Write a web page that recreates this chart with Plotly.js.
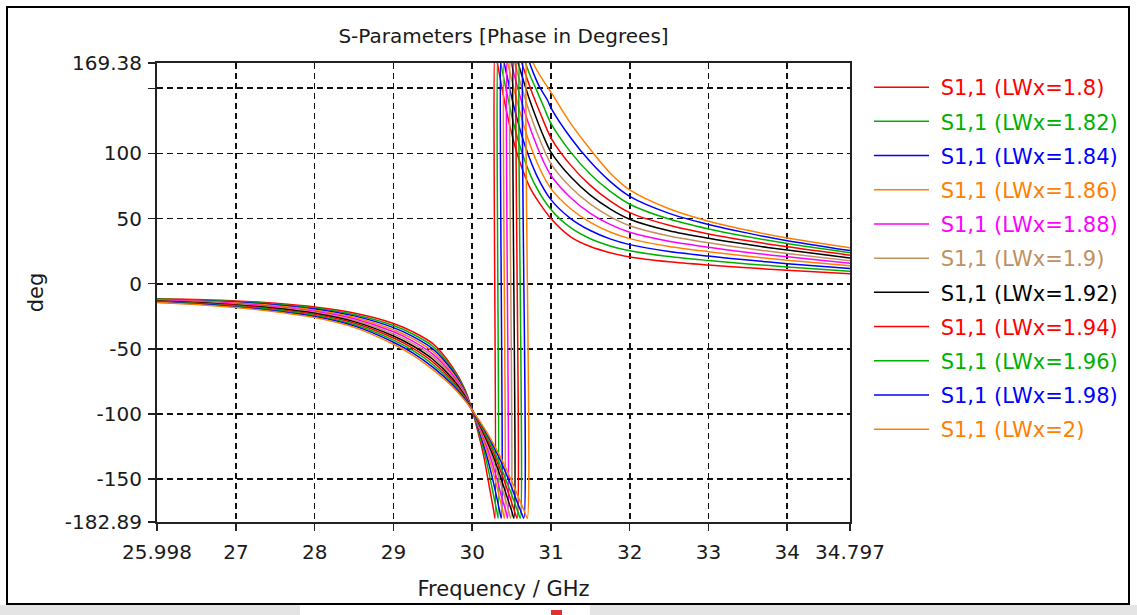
<!DOCTYPE html>
<html><head><meta charset="utf-8">
<script src="https://cdn.plot.ly/plotly-3.0.1.min.js"></script>
<style>html,body{margin:0;padding:0;background:#fff;} #chart{width:1137px;height:615px;}</style>
</head><body><div id="chart"></div>
<script>
// ---- data ----
const lwxValues = ['1.8','1.82','1.84','1.86','1.88','1.9','1.92','1.94','1.96','1.98','2'];

const xTickVals = [25.998, 27, 28, 29, 30, 31, 32, 33, 34, 34.797];
const xTickText = ['25.998','27','28','29','30','31','32','33','34','34.797'];
const yTickVals = [-182.89, -150, -100, -50, 0, 50, 100, 150, 169.38];
const yTickText = ['-182.89','-150','-100','-50','0','50','100','','169.38'];

const freq_1_80 = [25.998,26.5,27,27.5,28,28.5,29,29.25,29.5,29.75,29.9,30.0,30.07,30.145,30.2,30.245,30.275,30.29,30.29,30.32,30.36,30.41,30.49,30.59,30.74,31,31.25,31.5,31.75,32,32.5,33,33.5,34,34.797];
const deg_1_80  = [-11.5,-12.2,-13.2,-15.0,-17.8,-22.5,-30.5,-37,-46,-64,-80,-97,-113,-132,-150,-165,-175,-180,180,169.5,156,140,118,96,73,50,36,28.5,23.8,20.5,16.8,14.3,12.2,10.3,7.6];

const freq_1_82 = [25.998,26.5,27,27.5,28,28.5,29,29.25,29.5,29.75,29.9,30.0,30.08,30.165,30.23,30.28,30.315,30.33,30.33,30.36,30.40,30.45,30.53,30.63,30.78,31,31.25,31.5,31.75,32,32.5,33,33.5,34,34.797];
const deg_1_82  = [-11.8,-12.6,-13.7,-15.7,-18.6,-23.6,-32.1,-38.8,-48,-65.5,-80.9,-97,-113,-132,-150,-165,-175,-180,180,170.5,158,143.5,122,101,78,57,43,34.5,29,25.3,20.8,17.8,15.2,12.9,9.6];

const freq_1_84 = [25.998,26.5,27,27.5,28,28.5,29,29.25,29.5,29.75,29.9,30.0,30.09,30.185,30.26,30.315,30.35,30.37,30.37,30.40,30.44,30.49,30.57,30.67,30.82,31,31.25,31.5,31.75,32,32.5,33,33.5,34,34.797];
const deg_1_84  = [-12.1,-13.0,-14.2,-16.3,-19.4,-24.7,-33.7,-40.6,-50,-67,-81.8,-97,-113,-132,-150,-165,-175,-180,180,171,160,146,126.5,106,83,64.5,50,40.8,34.4,30,24.7,21.2,18.1,15.4,11.6];

const freq_1_86 = [25.998,26.5,27,27.5,28,28.5,29,29.25,29.5,29.75,29.9,30.0,30.10,30.205,30.29,30.35,30.39,30.41,30.41,30.44,30.48,30.53,30.61,30.71,30.86,31,31.25,31.5,31.75,32,32.5,33,33.5,34,34.797];
const deg_1_86  = [-12.4,-13.3,-14.7,-17.0,-20.3,-25.8,-35.3,-42.4,-52,-68.5,-82.7,-97,-113,-132,-150,-165,-175,-180,180,172,162,149.5,131,111,88,73,57.5,47,39.7,34.6,28.6,24.6,21.1,18,13.7];

const freq_1_88 = [25.998,26.5,27,27.5,28,28.5,29,29.25,29.5,29.75,29.9,30.0,30.11,30.225,30.315,30.38,30.43,30.45,30.45,30.48,30.52,30.57,30.65,30.75,30.90,31,31.25,31.5,31.75,32,32.5,33,33.5,34,34.797];
const deg_1_88  = [-12.7,-13.7,-15.2,-17.6,-21.1,-26.9,-36.9,-44.2,-54,-70,-83.6,-97,-113,-132,-150,-165,-175,-180,180,173,163.5,152,135,117,94.5,83,66,54,45.5,39.5,32.6,28,24,20.6,15.6];

const freq_1_90 = [25.998,26.5,27,27.5,28,28.5,29,29.25,29.5,29.75,29.9,30.0,30.12,30.245,30.345,30.42,30.465,30.49,30.49,30.52,30.56,30.61,30.69,30.79,30.94,31,31.25,31.5,31.75,32,32.5,33,33.5,34,34.797];
const deg_1_90  = [-13.0,-14.1,-15.8,-18.3,-21.9,-28.0,-38.5,-46,-56,-71.5,-84.5,-97,-113,-132,-150,-165,-175,-180,180,173.5,165,154.5,138.5,121,99,92,74,61,51.5,44.5,36.6,31.4,27,23.1,17.6];

const freq_1_92 = [25.998,26.5,27,27.5,28,28.5,29,29.25,29.5,29.75,29.9,30.0,30.13,30.265,30.37,30.45,30.505,30.53,30.53,30.56,30.60,30.65,30.73,30.83,30.91,31,31.25,31.5,31.75,32,32.5,33,33.5,34,34.797];
const deg_1_92  = [-13.3,-14.5,-16.3,-18.9,-22.7,-29.1,-40.1,-47.8,-58,-73,-85.4,-97,-113,-132,-150,-165,-175,-180,180,174,166,156,141,124.5,112.5,101,82,68,57.5,49.5,40.6,34.8,30,25.8,19.8];

const freq_1_94 = [25.998,26.5,27,27.5,28,28.5,29,29.25,29.5,29.75,29.9,30.0,30.14,30.285,30.40,30.485,30.54,30.57,30.57,30.60,30.64,30.69,30.77,30.87,31,31.25,31.5,31.75,32,32.5,33,33.5,34,34.797];
const deg_1_94  = [-13.6,-14.9,-16.8,-19.6,-23.5,-30.2,-41.7,-49.6,-60,-74.5,-86.3,-97,-113,-132,-150,-165,-175,-180,180,174.5,167.5,158.5,145,130,112,91,75.5,63.5,54.5,44.8,38.2,32.9,28.3,21.9];

const freq_1_96 = [25.998,26.5,27,27.5,28,28.5,29,29.25,29.5,29.75,29.9,30.0,30.15,30.305,30.425,30.52,30.58,30.61,30.61,30.64,30.68,30.73,30.81,30.91,31,31.25,31.5,31.75,32,32.5,33,33.5,34,34.797];
const deg_1_96  = [-13.9,-15.2,-17.3,-20.2,-24.4,-31.3,-43.3,-51.4,-62,-76,-87.2,-97,-113,-132,-150,-165,-175,-180,180,175.5,169,160.5,149.5,135.5,123,101,84,71,61,49.6,42,36,30.8,23.8];

const freq_1_98 = [25.998,26.5,27,27.5,28,28.5,29,29.25,29.5,29.75,29.9,30.0,30.165,30.33,30.46,30.555,30.62,30.655,30.655,30.685,30.725,30.775,30.855,30.955,31,31.25,31.5,31.75,32,32.5,33,33.5,34,34.797];
const deg_1_98  = [-14.2,-15.6,-17.8,-20.9,-25.2,-32.4,-44.9,-53.2,-64,-77.5,-88.1,-97,-113,-132,-150,-165,-175,-180,180,176,170,162,151,141,135,112,93.5,78.5,67,54,45.5,38.8,33,25.4];

const freq_2_00 = [25.998,26.5,27,27.5,28,28.5,29,29.25,29.5,29.75,29.9,30.0,30.175,30.35,30.49,30.595,30.665,30.70,30.70,30.73,30.77,30.82,30.90,31,31.25,31.5,31.75,32,32.5,33,33.5,34,34.797];
const deg_2_00  = [-14.5,-16.0,-18.3,-21.5,-26.0,-33.5,-46.5,-55,-66,-79,-89,-97,-113,-132,-150,-165,-175,-180,180,176,170,164,156,147,123,103,85,72,57.5,48,41,35,27.5];

const seriesFreq = [freq_1_80,freq_1_82,freq_1_84,freq_1_86,freq_1_88,freq_1_90,freq_1_92,freq_1_94,freq_1_96,freq_1_98,freq_2_00];
const seriesDeg  = [deg_1_80,deg_1_82,deg_1_84,deg_1_86,deg_1_88,deg_1_90,deg_1_92,deg_1_94,deg_1_96,deg_1_98,deg_2_00];

// ---- styling ----
const colors = ['#ff0000','#00b000','#0000ff','#ff8000','#ff00ff','#c09060','#000000','#ff0000','#00b000','#0000ff','#ff8000'];
const FONT = 'DejaVu Sans, Verdana, sans-serif';
const TXT = '#1a1a1a';

const traces = lwxValues.map((v, i) => ({
  type: 'scatter', mode: 'lines',
  x: seriesFreq[i], y: seriesDeg[i],
  name: '<span style="color:' + colors[i] + '">\u00a0S1,1 (LWx=' + v + ')</span>',
  legendgroup: 'g' + i,
  line: {color: colors[i], width: 1.5, shape: 'spline', smoothing: 0.8},
  hoverinfo: 'x+y'
}));

// pixel -> paper helpers for decorative frame
const PL = 157, PR = 850, PT = 63, PB = 522;
const px = v => (v - PL) / (PR - PL);
const py = v => (PB - v) / (PB - PT);

const shapes = [
  {type:'rect', xref:'paper', yref:'paper', x0:px(7), x1:px(1129), y0:py(7), y1:py(604), line:{color:'#000', width:2}, fillcolor:'rgba(0,0,0,0)', layer:'below'},
  {type:'rect', xref:'paper', yref:'paper', x0:px(0), x1:px(1137), y0:py(605), y1:py(615), line:{width:0}, fillcolor:'#e4e4e4', layer:'below'},
  {type:'rect', xref:'paper', yref:'paper', x0:px(300), x1:px(590), y0:py(605), y1:py(615), line:{width:0}, fillcolor:'#ffffff', layer:'below'},
  {type:'rect', xref:'paper', yref:'paper', x0:px(551), x1:px(562), y0:py(610), y1:py(615), line:{width:0}, fillcolor:'#e03030', layer:'below'}
];

const axisCommon = {
  showgrid: true, gridcolor: '#111', griddash: '6px,4px', gridwidth: 1.6,
  showline: true, linecolor: '#222', linewidth: 2, mirror: true,
  ticks: 'outside', ticklen: 7, tickcolor: '#222', tickwidth: 1.5,
  tickfont: {family: FONT, size: 20, color: TXT},
  zeroline: false, tickmode: 'array', fixedrange: true
};

const layout = {
  width: 1137, height: 615,
  margin: {l: PL, r: 1137 - PR, t: PT, b: 615 - PB, pad: 0},
  paper_bgcolor: '#fff', plot_bgcolor: '#fff',
  font: {family: FONT, color: TXT},
  title: {text: 'S-Parameters [Phase in Degrees]', font: {family: FONT, size: 20, color: TXT},
          x: 0.5, xref: 'paper', y: 1 - 36/615, yref: 'container', yanchor: 'middle'},
  xaxis: Object.assign({}, axisCommon, {
    range: [25.998, 34.797], tickvals: xTickVals, ticktext: xTickText, ticklabelstandoff: 4,
    title: {text: 'Frequency / GHz', font: {family: FONT, size: 21, color: TXT}, standoff: 18}
  }),
  yaxis: Object.assign({}, axisCommon, {
    range: [-182.89, 169.38], tickvals: yTickVals, ticktext: yTickText, ticklabelstandoff: 2,
    title: {text: 'deg', font: {family: FONT, size: 21, color: TXT}, standoff: 15}
  }),
  showlegend: true,
  legend: {
    x: 869/1137, xref: 'container', xanchor: 'left',
    y: 1 - 67/615, yref: 'container', yanchor: 'top',
    font: {family: FONT, size: 21, color: TXT},
    itemwidth: 55, tracegroupgap: 3.9, traceorder: 'grouped', maxheight: 560,
    bgcolor: 'rgba(0,0,0,0)', borderwidth: 0
  },
  shapes: shapes
};

Plotly.newPlot('chart', traces, layout, {displayModeBar: false, staticPlot: true});
</script></body></html>
